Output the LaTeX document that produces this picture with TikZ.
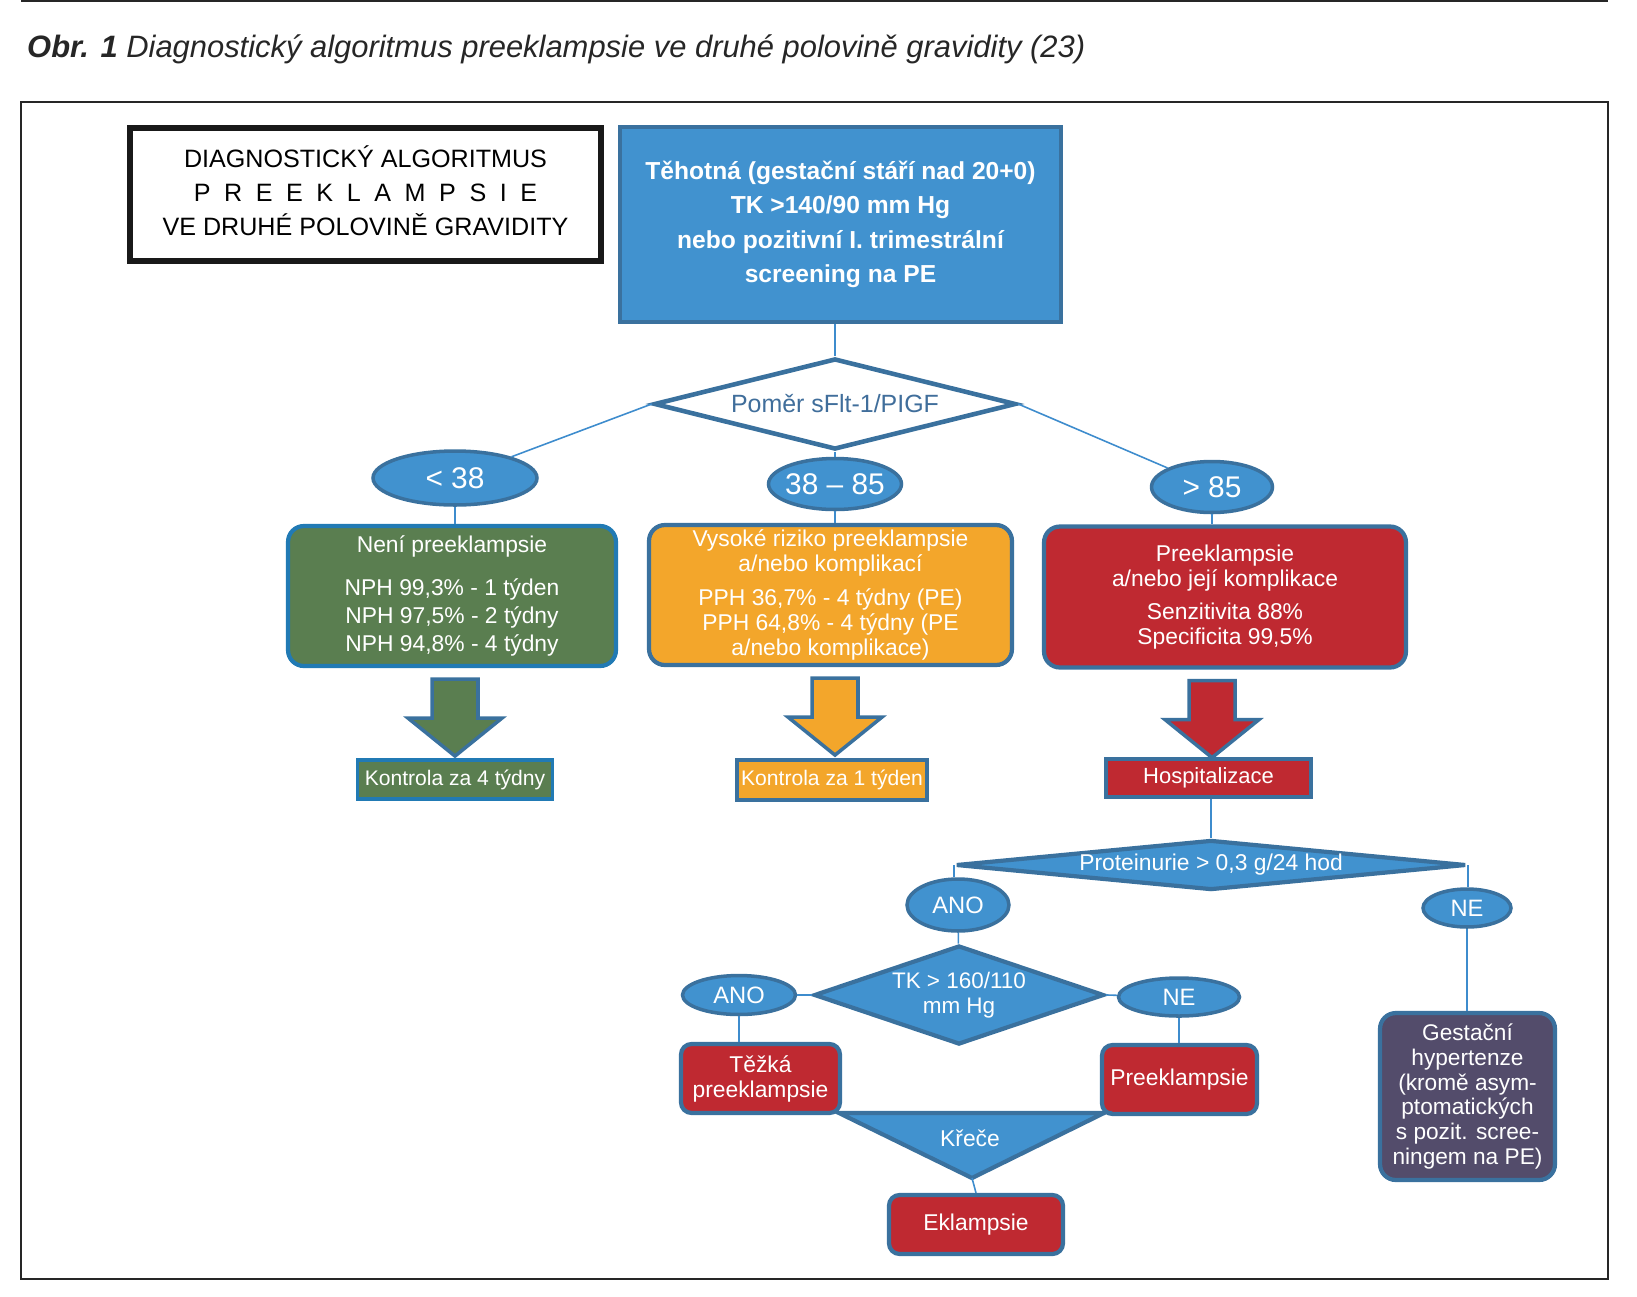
\documentclass[tikz,border=0pt]{standalone}
\usepackage{fontspec}
\setmainfont{Liberation Sans}
\definecolor{BoxBlue}{RGB}{65,146,207}
\definecolor{EdgeBlue}{RGB}{58,113,158}
\definecolor{LineBlue}{RGB}{62,140,205}
\definecolor{GreenEdge}{RGB}{33,122,180}
\definecolor{RatioText}{RGB}{64,110,155}
\definecolor{NoGreen}{RGB}{90,126,80}
\definecolor{RiskOrange}{RGB}{243,166,43}
\definecolor{AlarmRed}{RGB}{191,41,49}
\definecolor{HyperGrey}{RGB}{83,76,107}
\usetikzlibrary{shapes.geometric,positioning}
\newcommand{\setfs}[2]{\fontsize{#1}{#2}\selectfont}
\newcommand{\lsp}{\hspace{0.54em}}

\begin{document}
\begin{tikzpicture}[x=0.02cm, y=-0.02cm,
    conn/.style={LineBlue, line width=0.9pt},
    result/.style={rectangle, rounded corners=9pt, draw=EdgeBlue, line width=2.4pt, text=white, align=center, inner sep=0pt},
    small/.style={rectangle, rounded corners=6pt, draw=EdgeBlue, line width=2.4pt, fill=AlarmRed, text=white, align=center, inner sep=0pt, font=\setfs{13}{14.2}},
    tag/.style={rectangle, draw=EdgeBlue, line width=1.8pt, text=white, inner sep=0pt, font=\setfs{12}{14}},
    oval/.style={ellipse, draw=EdgeBlue, line width=2pt, fill=BoxBlue, text=white, inner sep=0pt},
    query/.style={diamond, draw=EdgeBlue, line width=2.4pt, fill=BoxBlue, text=white, inner sep=0pt, align=center},
    bigarrow/.style={draw=EdgeBlue, line width=2pt, line join=miter}]
    \useasboundingbox (0,0) rectangle (1637,1296);

    % Caption and frame
    \draw[black!85, line width=1.2pt] (21,1.2) -- (1608,1.2);
    \node[anchor=west, text=black!85, font=\itshape\setfs{17.6}{21}] (caption) at (21,49)
        {\textbf{Obr. 1} Diagnostický algoritmus preeklampsie ve druhé polovině gravidity (23)};
    \draw[black!85, line width=1.4pt] (21,102) rectangle (1608,1279);

    \node[draw=black!90, line width=3pt, minimum width=9.42cm, minimum height=2.66cm, align=center, font=\setfs{14.3}{19.3}] (title) at (365.5,194.5)
        {\raisebox{3pt}{\begin{tabular}{@{}c@{}}DIAGNOSTICKÝ ALGORITMUS\\P\lsp R\lsp E\lsp E\lsp K\lsp L\lsp A\lsp M\lsp P\lsp S\lsp I\lsp E\\VE DRUHÉ POLOVINĚ GRAVIDITY\end{tabular}}};

    % Start and ratio
    \node[rectangle, draw=EdgeBlue, line width=2.6pt, fill=BoxBlue, text=white, align=center, minimum width=8.82cm, minimum height=3.9cm, font=\bfseries\setfs{14}{19.6}] (pregnant) at (840.5,224.5)
        {Těhotná (gestační stáří nad 20+0)\\TK >140/90 mm Hg\\nebo pozitivní I. trimestrální\\screening na PE};
    \node[diamond, draw=EdgeBlue, line width=2.6pt, fill=white, text=RatioText, aspect=4, minimum width=7.24cm, minimum height=1.82cm, inner sep=0pt, font=\setfs{14.2}{17}] (ratio) at (835,404) {Poměr sFlt-1/PIGF};
    \draw[conn] (pregnant.south -| ratio.north) -- (ratio.north);

    \node[oval, minimum width=3.28cm, minimum height=1.08cm, font=\setfs{17}{20}] (low) at (455,478) {\makebox[0pt]{< 38}};
    \node[oval, minimum width=2.66cm, minimum height=1.02cm, font=\setfs{17}{20}] (mid) at (835,484) {\makebox[0pt]{38 – 85}};
    \node[oval, minimum width=2.42cm, minimum height=1.02cm, font=\setfs{17}{20}] (high) at (1212,487) {\makebox[0pt]{> 85}};
    \draw[conn] (ratio.west) -- (low);
    \draw[conn] (ratio.south) -- (mid);
    \draw[conn] (ratio.east) -- (high);

    % Results
    \node[result, fill=NoGreen, draw=GreenEdge, minimum width=6.56cm, minimum height=2.8cm, font=\setfs{13}{15.9}] (nope) at (452,596)
        {Není preeklampsie\\[9pt]NPH 99,3\% - 1 týden\\NPH 97,5\% - 2 týdny\\NPH 94,8\% - 4 týdny};
    \node[result, fill=RiskOrange, minimum width=7.26cm, minimum height=2.8cm, font=\setfs{13}{14.2}] (risk) at (830.5,595)
        {Vysoké riziko preeklampsie\\a/nebo komplikací\\[5pt]PPH 36,7\% - 4 týdny (PE)\\PPH 64,8\% - 4 týdny (PE\\a/nebo komplikace)};
    \node[result, fill=AlarmRed, minimum width=7.24cm, minimum height=2.82cm, font=\setfs{13}{14.2}] (pe) at (1225,597)
        {Preeklampsie\\a/nebo její komplikace\\[5pt]Senzitivita 88\%\\Specificita 99,5\%};
    \draw[conn] (low) -- (low |- nope.north);
    \draw[conn] (mid) -- (mid |- risk.north);
    \draw[conn] (high) -- (high |- pe.north);

    % Block arrows
    \foreach \ov/\bx/\cl in {low/nope/NoGreen, mid/risk/RiskOrange, high/pe/AlarmRed} {
        \path (\ov |- \bx.south) ++(0,-0.22cm) coordinate (top);
        \draw[bigarrow, fill=\cl] ([xshift=-0.46cm]top) -- ++(0,-0.78cm) -- ++(-0.48cm,0) -- ++(0.94cm,-0.76cm)
            -- ++(0.94cm,0.76cm) -- ++(-0.48cm,0) -- ++(0,0.78cm) -- cycle;
    }

    \node[tag, fill=NoGreen, draw=GreenEdge, minimum width=3.9cm, minimum height=0.78cm] (check4) at (455,779.5) {Kontrola za 4 týdny};
    \node[tag, fill=RiskOrange, minimum width=3.8cm, minimum height=0.8cm] (check1) at (832,780) {Kontrola za 1 týden};
    \node[tag, fill=AlarmRed, minimum width=4.1cm, minimum height=0.76cm, font=\setfs{12.5}{14}] (hosp) at (1208.5,778) {Hospitalizace};

    % Proteinuria branch
    \node[query, aspect=10, minimum width=10.2cm, minimum height=1.0cm, font=\setfs{13}{15}] (protein) at (1211,865) {Proteinurie > 0,3 g/24 hod};
    \draw[conn] (hosp.south -| protein.north) -- (protein.north);

    \node[oval, minimum width=2.04cm, minimum height=1.04cm, font=\setfs{13.5}{16}] (yes1) at (958,905) {ANO};
    \node[oval, minimum width=1.76cm, minimum height=0.76cm, font=\setfs{13.5}{16}] (no1) at (1467,908) {NE};
    \draw[conn] (protein.west) -- (protein.west |- yes1.north);
    \draw[conn] (protein.east) -- (protein.east |- no1.north);

    \node[query, aspect=2.9, minimum width=5.8cm, minimum height=1.98cm, font=\setfs{12.8}{14.2}] (bp) at (959,995) {TK > 160/110\\mm Hg};
    \draw[conn] (yes1) -- (bp);

    \node[oval, minimum width=2.26cm, minimum height=0.78cm, font=\setfs{13.5}{16}] (yes2) at (739,995) {ANO};
    \node[oval, minimum width=2.42cm, minimum height=0.76cm, font=\setfs{13.5}{16}] (no2) at (1179,997) {NE};
    \draw[conn] (bp.west) -- (yes2);
    \draw[conn] (bp.east) -- (no2);

    \node[small, minimum width=3.18cm, minimum height=1.38cm] (severe) at (760.5,1078.5) {Těžká\\preeklampsie};
    \node[small, minimum width=3.1cm, minimum height=1.38cm] (mild) at (1179.5,1079.5) {Preeklampsie};
    \draw[conn] (yes2) -- (yes2 |- severe.north);
    \draw[conn] (no2) -- (no2 |- mild.north);

    % Seizures
    \draw[bigarrow, line width=2.4pt, fill=BoxBlue] (839,1113) -- (1104,1113) -- (972,1178) -- cycle;
    \coordinate (fitTip) at (972,1178);
    \node[text=white, font=\setfs{13}{15}] (fits) at (970,1138) {Křeče};
    \node[small, minimum width=3.48cm, minimum height=1.18cm] (eclampsia) at (976,1224.5) {Eklampsie};
    \draw[conn] (fitTip) -- (eclampsia.north);

    \node[result, fill=HyperGrey, minimum width=3.5cm, minimum height=3.34cm, font=\setfs{12.9}{14.2}] (gh) at (1467.5,1096.5)
        {Gestační\\hypertenze\\(kromě asym-\\ptomatických\\s pozit. scree-\\ningem na PE)};
    \draw[conn] (no1) -- (no1 |- gh.north);
\end{tikzpicture}
\end{document}
